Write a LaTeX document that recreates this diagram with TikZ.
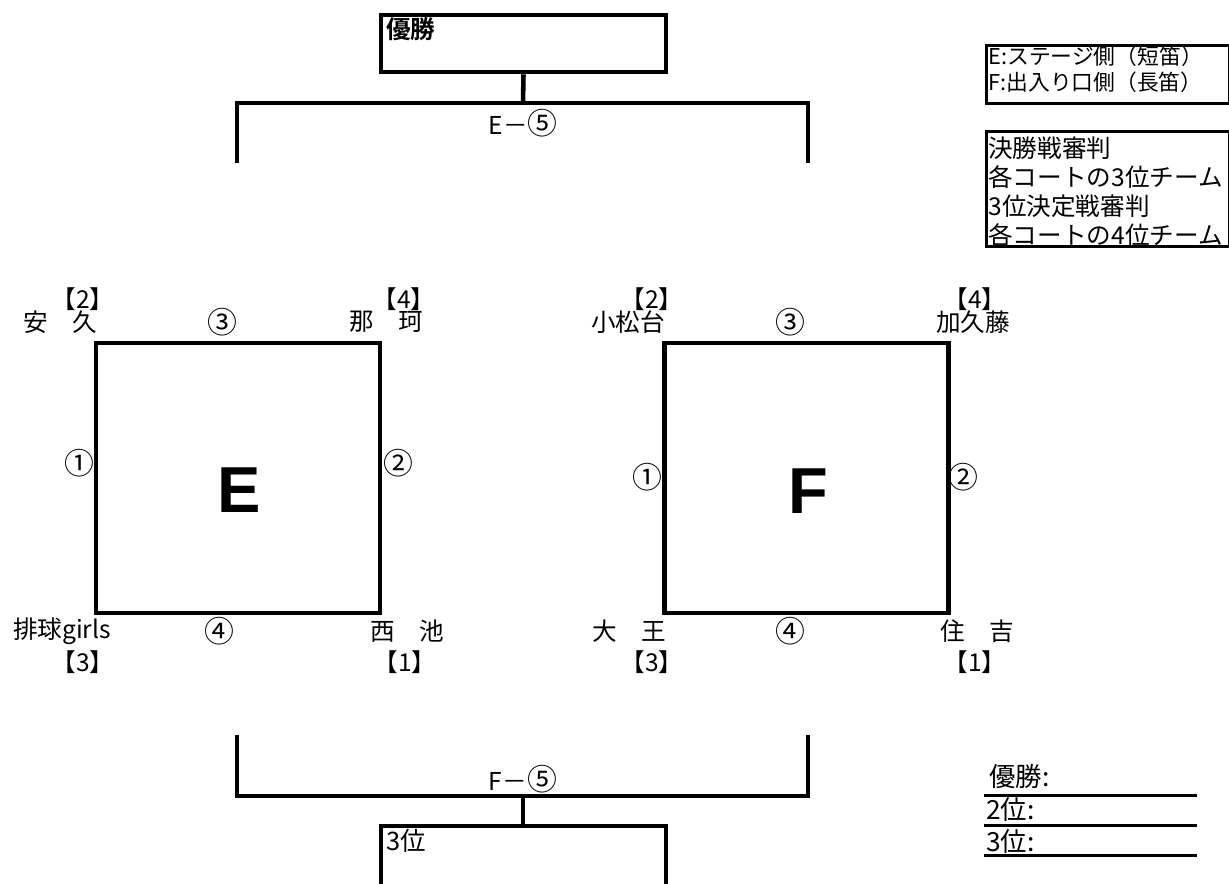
\documentclass[tikz,border=0pt]{standalone}
\usepackage{fontspec}
\setmainfont{Noto Sans CJK JP}[BoldFont={Noto Sans CJK JP Bold}]
\newfontfamily\courtfont{Liberation Sans}
\usetikzlibrary{positioning}

\begin{document}
\begin{tikzpicture}
    [
    x=0.02cm, y=-0.02cm,
    every node/.style={inner sep=0pt},
    court/.style={draw, line width=2.4pt, minimum width=5.68cm, minimum height=5.4cm},
    courtname/.style={font=\courtfont\fontsize{37}{37}\selectfont\bfseries},
    team/.style={font=\fontsize{14}{15}\selectfont},
    seed/.style={font=\fontsize{14}{15}\selectfont},
    game/.style={font=\fontsize{17}{18}\selectfont},
    finalbox/.style={draw, line width=2.6pt, minimum width=5.7cm, minimum height=1.14cm},
    bracket/.style={line width=2.6pt},
    legendbox/.style={draw, line width=1.5pt, anchor=north west, minimum width=4.86cm},
    legendtext/.style={anchor=west},
    result/.style={font=\fontsize{15}{15}\selectfont, anchor=west},
    ]
    \useasboundingbox (0,0) rectangle (1229,883);

    % courts
    \node[court] (courtE) at (238,478) {};
    \node[court] (courtF) at (806.5,478) {};
    \node[courtname] (nameE) at (239,490) {E};
    \node[courtname] (nameF) at (808,491) {F};

    % court E
    \node[seed] (seedE2) at (83,299) {【2】};
    \node[team] (teamE2) at (60,322) {安　久};
    \node[game] (gameE3) at (222,322) {③};
    \node[seed] (seedE4) at (404,299) {【4】};
    \node[team] (teamE4) at (386,322) {那　珂};
    \node[game] (gameE1) at (79,463) {①};
    \node[game] (gameE2) at (398,463) {②};
    \node[team] (teamE3) at (62,631) {排球girls};
    \node[game] (gameE4) at (219,631) {④};
    \node[team] (teamE1) at (407,631) {西　池};
    \node[seed] (seedE3) at (83,662) {【3】};
    \node[seed] (seedE1) at (405,662) {【1】};

    % court F
    \node[seed] (seedF2) at (652,299) {【2】};
    \node[team] (teamF2) at (628,322) {小松台};
    \node[game] (gameF3) at (790,322) {③};
    \node[seed] (seedF4) at (975,299) {【4】};
    \node[team] (teamF4) at (973,322) {加久藤};
    \node[game] (gameF1) at (647,477) {①};
    \node[game] (gameF2) at (963,477) {②};
    \node[team] (teamF3) at (629,631) {大　王};
    \node[game] (gameF4) at (790,631) {④};
    \node[team] (teamF1) at (977,631) {住　吉};
    \node[seed] (seedF3) at (652,662) {【3】};
    \node[seed] (seedF1) at (975,662) {【1】};

    % final
    \node[finalbox] (champ) at (523.5,43.5) {};
    \node[anchor=north west, font=\fontsize{14}{15}\selectfont\bfseries] (champlabel) at (386,17) {優勝};
    \coordinate (finalbar) at (523,103);
    \coordinate (finalL) at (237,163);
    \coordinate (finalR) at (808,163);
    \draw[bracket] (champ.south) -- (finalbar);
    \draw[bracket] (finalL) |- (finalbar) -| (finalR);
    \node[team] (finalgame) at (523,123) {E－{\fontsize{17}{18}\selectfont ⑤}};

    % third place
    \coordinate (thirdL) at (237,735);
    \coordinate (thirdR) at (808,735);
    \coordinate (thirdbar) at (523,796);
    \coordinate (thirdtop) at (523,826);
    \draw[bracket] (thirdL) |- (thirdbar) -| (thirdR);
    \draw[bracket] (thirdbar) -- (thirdtop);
    \draw[bracket] (381,890) |- (thirdtop) -| (666,890);
    \node[team] (thirdgame) at (523,779) {F－{\fontsize{17}{18}\selectfont ⑤}};
    \node[anchor=west, font=\fontsize{14.5}{15}\selectfont] (thirdlabel) at (386,841) {3位};

    % legends
    \node[legendbox, minimum height=1.16cm] (sides) at (985,44) {};
    \node[legendtext, font=\fontsize{12.4}{13}\selectfont] (sideE) at (988,56) {E:ステージ側（短笛）};
    \node[legendtext, font=\fontsize{12.4}{13}\selectfont] (sideF) at (988,82) {F:出入り口側（長笛）};

    \node[legendbox, minimum height=2.3cm] (referees) at (985,130) {};
    \node[legendtext, font=\fontsize{14}{15}\selectfont] (refA) at (988,148) {決勝戦審判};
    \node[legendtext, font=\fontsize{14}{15}\selectfont] (refB) at (988,177) {各コートの3位チーム};
    \node[legendtext, font=\fontsize{14}{15}\selectfont] (refC) at (988,206) {3位決定戦審判};
    \node[legendtext, font=\fontsize{14}{15}\selectfont] (refD) at (988,235) {各コートの4位チーム};

    % results
    \node[result] (resFirst) at (989,777) {優勝:};
    \node[result] (resSecond) at (986,809) {2位:};
    \node[result] (resThird) at (986,841) {3位:};
    \foreach \y in {795,825,855}
        \draw[line width=1.7pt] (984,\y) -- (1197,\y);
\end{tikzpicture}
\end{document}
